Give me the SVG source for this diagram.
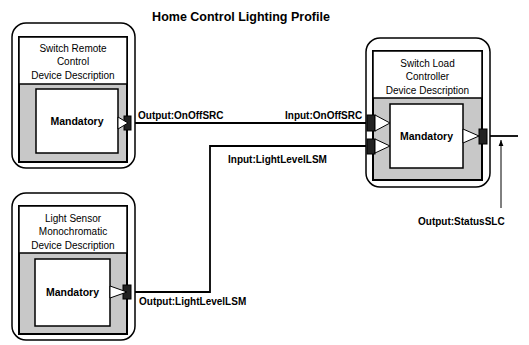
<svg xmlns="http://www.w3.org/2000/svg" width="529" height="345" viewBox="0 0 529 345">
<defs>
<style>
.outer{fill:#fff;stroke:#000;stroke-width:1.5}
.frame{fill:#c8c8c8;stroke:#000;stroke-width:2}
.head{fill:#fff;stroke:#000;stroke-width:1.5}
.mand{fill:#fff;stroke:#000;stroke-width:1.5}
.port{fill:#222;stroke:#000;stroke-width:1}
.tri{fill:#fff;stroke:#000;stroke-width:1}
.ht{font-family:"Liberation Sans",Arial,sans-serif;font-size:10px;text-anchor:middle;fill:#000}
.mt{font-family:"Liberation Sans",Arial,sans-serif;font-size:10.5px;font-weight:bold;text-anchor:middle;fill:#000}
.lbl{font-family:"Liberation Sans",Arial,sans-serif;font-size:10px;font-weight:bold;fill:#000}
.wire{fill:none;stroke:#000;stroke-width:1.8}
.thin{fill:none;stroke:#000;stroke-width:1}
</style>
<marker id="arr" viewBox="0 0 10 10" refX="10" refY="5" markerWidth="6" markerHeight="6" orient="auto">
<path d="M0,1 L10,5 L0,9 Z" fill="#000"/>
</marker>
</defs>
<rect width="529" height="345" fill="#fff"/>
<text x="241" y="21" font-family="Liberation Sans,Arial,sans-serif" font-size="12.5" font-weight="bold" text-anchor="middle">Home Control Lighting Profile</text>

<g id="connectors">
<path class="wire" d="M130,123 H367"/>
<path class="wire" d="M130,292 H210 V146 H367"/>
<path class="wire" d="M486,136 H518"/>
<path class="thin" d="M501,208 V140" marker-end="url(#arr)"/>
<text class="lbl" x="138" y="119">Output:OnOffSRC</text>
<text class="lbl" x="285" y="119">Input:OnOffSRC</text>
<text class="lbl" x="228" y="163">Input:LightLevelLSM</text>
<text class="lbl" x="139" y="305">Output:LightLevelLSM</text>
<text class="lbl" x="418" y="225">Output:StatusSLC</text>
</g>

<g id="switch-remote-control">
<rect class="outer" x="12" y="23" width="123" height="145" rx="14"/>
<rect class="frame" x="19" y="37" width="108" height="125"/>
<rect class="head" x="19" y="37" width="108" height="47"/>
<text class="ht" x="73" y="51.5">Switch Remote</text>
<text class="ht" x="73" y="65">Control</text>
<text class="ht" x="73" y="78.5">Device Description</text>
<rect class="mand" x="36" y="89" width="82" height="64"/>
<text class="mt" x="77" y="125">Mandatory</text>
<rect class="port" x="124" y="116" width="7" height="14"/>
<path class="tri" d="M118,117 L128,123 L118,129 Z"/>
</g>

<g id="light-sensor">
<rect class="outer" x="12" y="193" width="123" height="147" rx="14"/>
<rect class="frame" x="19" y="206" width="108" height="128"/>
<rect class="head" x="19" y="206" width="108" height="47"/>
<text class="ht" x="73" y="221.5">Light Sensor</text>
<text class="ht" x="73" y="235">Monochromatic</text>
<text class="ht" x="73" y="248.5">Device Description</text>
<rect class="mand" x="35" y="259" width="75" height="67"/>
<text class="mt" x="72.5" y="296">Mandatory</text>
<rect class="port" x="123" y="285" width="8" height="14"/>
<path class="tri" d="M110,286 L127,292 L110,298 Z"/>
</g>

<g id="switch-load-controller">
<rect class="outer" x="366" y="38" width="124" height="149" rx="14"/>
<rect class="frame" x="373" y="51" width="109" height="129"/>
<rect class="head" x="373" y="51" width="109" height="47"/>
<text class="ht" x="427.5" y="66.5">Switch Load</text>
<text class="ht" x="427.5" y="80">Controller</text>
<text class="ht" x="427.5" y="93.5">Device Description</text>
<rect class="mand" x="390" y="104" width="73" height="64"/>
<text class="mt" x="426.5" y="140">Mandatory</text>
<rect class="port" x="367" y="115" width="8" height="16"/>
<path class="tri" d="M375,115 L390,123 L375,131 Z"/>
<rect class="port" x="367" y="139" width="8" height="15"/>
<path class="tri" d="M375,139 L390,146 L375,153 Z"/>
<path class="tri" d="M463,129 L479,136 L463,143 Z"/>
<rect class="port" x="479" y="129" width="8" height="15"/>
</g>
</svg>
